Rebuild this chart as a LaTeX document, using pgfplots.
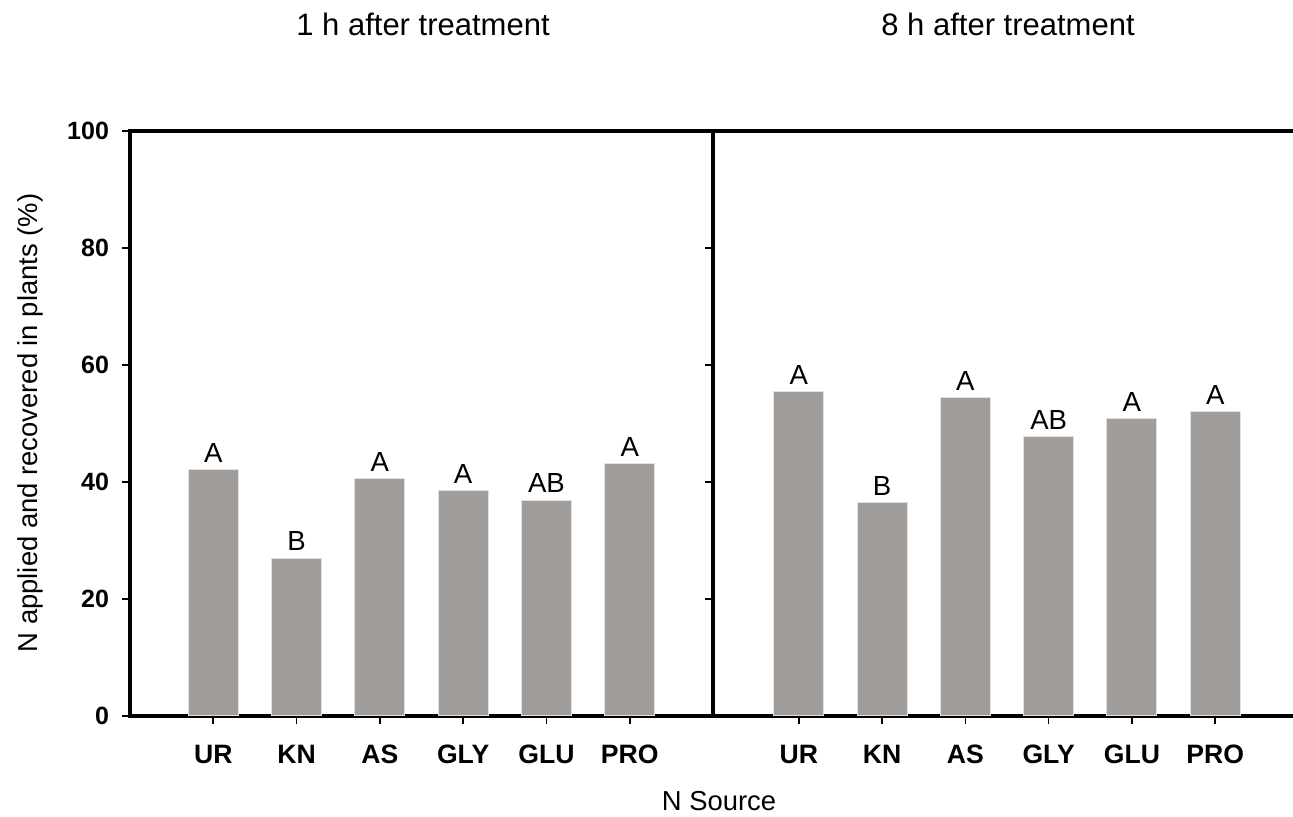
\documentclass[border=0pt]{standalone}
\usepackage{fontspec}
\setmainfont{Liberation Sans}
\usepackage{pgfplots}
\pgfplotsset{compat=1.18}
\usepackage{pgfplotstable}
\definecolor{barfill}{RGB}{160,157,154}
\definecolor{baredge}{RGB}{225,225,225}
\pgfplotstableread{
x y lab
0 42.1 A
1 27.0 B
2 40.6 A
3 38.6 A
4 36.9 AB
5 43.1 A
}\oneh
\pgfplotstableread{
x y lab
0 55.5 A
1 36.5 B
2 54.4 A
3 47.7 AB
4 50.8 A
5 52.1 A
}\eighth
\begin{document}
\begin{tikzpicture}
\useasboundingbox (0,0) rectangle (646.5pt,408.5pt);
\pgfplotsset{
  panel/.style={
    scale only axis, height=292.5pt, ymin=0, ymax=100, ytick={0,20,...,100},
    xtick={0,...,5}, xticklabels={UR,KN,AS,GLY,GLU,PRO},
    xtick pos=left, ytick pos=left,
    tick align=outside, major tick length=4pt,
    every tick/.style={black, line width=0.8pt},
    axis line style={-, line width=2pt, black},
    /pgf/number format/assume math mode=true,
    yticklabel style={font=\bfseries\fontsize{12.5}{14}\selectfont, xshift=-3pt},
    xticklabel style={font=\bfseries\fontsize{13.3}{15}\selectfont, text height=9.6pt, text depth=2.8pt, yshift=-6.5pt},
    ybar, bar width=0.6,
    nodes near coords, point meta=explicit symbolic,
    every node near coord/.append style={font=\fontsize{13.8}{15}\selectfont, black},
  }
}
\begin{axis}[panel, at={(65pt,50.5pt)}, anchor=south west, width=291.5pt, xmin=-1, xmax=6]
\addplot[fill=barfill, draw=baredge, line width=0.5pt] table[x=x, y=y, meta=lab] {\oneh};
\end{axis}
\begin{axis}[panel, at={(356.5pt,50.5pt)}, anchor=south west, width=290pt, xmin=-1.03, xmax=5.934,
  axis x line*=box, axis y line*=left, yticklabels={}]
\addplot[fill=barfill, draw=baredge, line width=0.5pt] table[x=x, y=y, meta=lab] {\eighth};
\end{axis}
\node[font=\fontsize{15.5}{18}\selectfont] at (211.5pt,396.5pt) {1 h after treatment};
\node[font=\fontsize{15.5}{18}\selectfont] at (504pt,396.5pt) {8 h after treatment};
\node[font=\fontsize{13.7}{16}\selectfont, rotate=90] at (15pt,197pt) {N applied and recovered in plants (\%)};
\node[font=\fontsize{13.7}{16}\selectfont] at (359.5pt,8pt) {N Source};
\end{tikzpicture}
\end{document}
